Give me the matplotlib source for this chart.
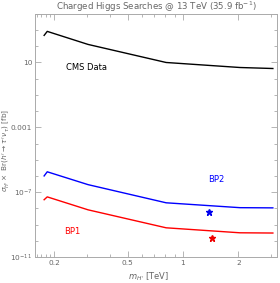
import matplotlib
matplotlib.use("Agg")
import matplotlib.pyplot as plt
from matplotlib.ticker import FixedLocator, NullFormatter

# --- data
mass = [0.176, 0.183, 0.305, 0.81, 2.04, 3.08]          # TeV
cms_limit = [470, 830, 130, 10, 4.9, 4.25]             # fb
bp2 = [1.0e-6, 1.8e-6, 2.9e-7, 2.2e-8, 1.1e-8, 1.07e-8]
bp1 = [3.4e-8, 5.1e-8, 8.1e-9, 6.3e-10, 3.1e-10, 3.0e-10]

star_mass = [1.38, 1.44]
star_xsec = [6.2e-9, 1.5e-10]
star_colors = ["#0000ee", "#ee0000"]

x_major = [0.2, 0.5, 1, 2]
x_major_labels = ["0.2", "0.5", "1", "2"]
x_minor = [0.16, 0.17, 0.18, 0.19, 0.3, 0.4, 0.6, 0.7, 0.8, 0.9, 3.0]
y_major = [1e1, 1e-3, 1e-7, 1e-11]
y_major_labels = ["10", "0.001", r"$10^{-7}$", r"$10^{-11}$"]
y_minor = [10.0 ** k for k in range(-11, 5)]

GRAY = "#666666"

fig = plt.figure(figsize=(2.8, 2.83), dpi=100)
ax = fig.add_axes([0.125, 0.092, 0.864, 0.859])

ax.plot(mass, cms_limit, color="black", lw=1.0)
ax.plot(mass, bp2, color="#0000ff", lw=1.0)
ax.plot(mass, bp1, color="#ff0000", lw=1.0)
for m, s, c in zip(star_mass, star_xsec, star_colors):
    ax.plot(m, s, marker="*", ms=5, color=c, mec=c, ls="none")

ax.set_xscale("log")
ax.set_yscale("log")
ax.set_xlim(0.157, 3.24)
ax.set_ylim(1e-11, 1e4)

ax.xaxis.set_major_locator(FixedLocator(x_major))
ax.set_xticklabels(x_major_labels)
ax.xaxis.set_minor_locator(FixedLocator(x_minor))
ax.xaxis.set_minor_formatter(NullFormatter())
ax.yaxis.set_major_locator(FixedLocator(y_major))
ax.set_yticklabels(y_major_labels)
ax.yaxis.set_minor_locator(FixedLocator(y_minor))
ax.yaxis.set_minor_formatter(NullFormatter())

ax.tick_params(which="both", direction="in", top=True, right=True,
               colors="#aaaaaa", labelcolor=GRAY, labelsize=5.3, width=0.6)
ax.tick_params(which="major", length=4, pad=2)
ax.tick_params(which="minor", length=2)
for sp in ax.spines.values():
    sp.set_color("#aaaaaa")
    sp.set_linewidth(0.7)

ax.text(0.3, 5, "CMS Data", fontsize=6, color="black", ha="center", va="center")
ax.text(1.51, 5.8e-7, "BP2", fontsize=6, color="#0000ff", ha="center", va="center")
ax.text(0.25, 4e-10, "BP1", fontsize=6, color="#ff0000", ha="center", va="center")

ax.set_title(r"Charged Higgs Searches @ 13 TeV (35.9 fb$^{-1}$)",
             fontsize=6.2, color=GRAY, pad=3)
ax.set_xlabel(r"$m_{H'}$ [TeV]", fontsize=6, color=GRAY, labelpad=1)
ax.set_ylabel(r"$\sigma_{H'}\times$ Br($h'\to\tau'\,\nu_\tau$) [fb]",
              fontsize=5.3, color=GRAY)
ax.yaxis.set_label_coords(-0.097, 0.44)
ax.xaxis.set_label_coords(0.47, -0.055)

fig.savefig("out.png", dpi=100)
